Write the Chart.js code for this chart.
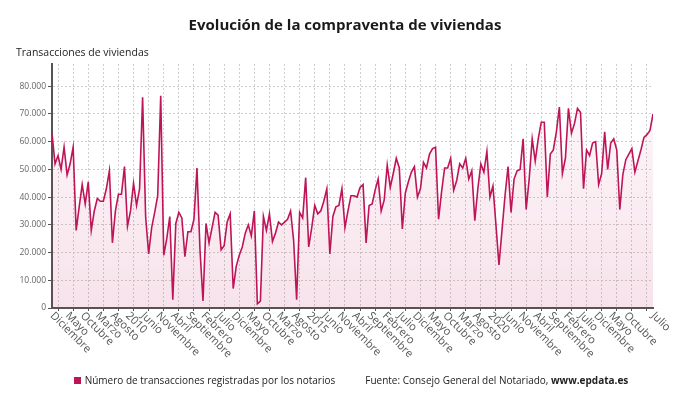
<!DOCTYPE html>
<html lang="es">
<head>
<meta charset="utf-8">
<title>Evolución de la compraventa de viviendas</title>
<script src="https://cdn.jsdelivr.net/npm/chart.js@4.4.1/dist/chart.umd.min.js"></script>
<style>
  html, body { margin: 0; padding: 0; background: #fff; }
  body { width: 690px; height: 405px; position: relative; overflow: hidden; font-family: 'Open Sans', sans-serif; }
  #grafico { position: absolute; left: 0; top: 0; }
  h1 { position: absolute; top: 14px; left: 0; width: 690px; margin: 0; text-align: center; font-size: 15px; font-weight: 700; color: #1a1a1a; }
  .subtitulo { position: absolute; left: 16px; top: 45px; font-size: 10.5px; color: #222; }
  .pie { position: absolute; left: 6px; top: 373px; width: 690px; display: flex; justify-content: center; gap: 30px; font-size: 10px; color: #222; }
  .leyenda { display: flex; align-items: center; }
  .cuadro { width: 7px; height: 7px; background: #be1558; margin-right: 4px; }
</style>
</head>
<body>
<canvas id="grafico" width="690" height="405"></canvas>
<h1>Evolución de la compraventa de viviendas</h1>
<div class="subtitulo">Transacciones de viviendas</div>
<div class="pie">
  <div class="leyenda"><span class="cuadro"></span>Número de transacciones registradas por los notarios</div>
  <div>Fuente: Consejo General del Notariado, <b>www.epdata.es</b></div>
</div>
<script>
// Serie mensual: diciembre 2007 - julio 2024
const mesesNombre = ['Enero', 'Febrero', 'Marzo', 'Abril', 'Mayo', 'Junio', 'Julio',
    'Agosto', 'Septiembre', 'Octubre', 'Noviembre', 'Diciembre'];
const inicioAnio = 2007;
const inicioMes = 11; // diciembre

const valores = [
    63000, 52000, 55000, 50000, 58000, 48000, 52000, 58000, 28000, 36500,
    44500, 37500, 45500, 28000, 35000, 39500, 38500, 38500, 43000, 49500,
    23500, 35000, 41000, 41000, 51000, 29500, 35000, 45000, 37000, 43000,
    76000, 33000, 19500, 29000, 34500, 40500, 76500, 19000, 25000, 33000,
    3000, 30500, 34500, 32500, 18500, 27500, 27500, 32000, 50500, 21000,
    2500, 30500, 23500, 29000, 34500, 33500, 21000, 22500, 31000, 34000,
    7000, 15000, 19000, 22000, 27000, 30000, 26000, 35000, 1500, 2500,
    33000, 28000, 34000, 24000, 27000, 31000, 30000, 31000, 32000, 35000,
    24500, 3000, 34500, 32500, 47000, 22000, 29000, 37000, 34000, 35000,
    38500, 43000, 19500, 33000, 36500, 37000, 43000, 29000, 35000, 40500,
    40500, 40000, 43500, 44500, 23500, 37000, 37500, 42500, 46500, 35000,
    39000, 51500, 43500, 48500, 54000, 50500, 28500, 41500, 45500, 49000,
    51000, 40000, 43000, 52500, 50500, 55500, 57500, 58000, 32000, 42000,
    50500, 50500, 54000, 42500, 46000, 52000, 50500, 54000, 46500, 49500,
    31500, 43000, 52000, 49000, 56500, 40000, 44000, 30000, 15500, 28000,
    40500, 51000, 34500, 46500, 49500, 50000, 61000, 35500, 46500, 61000,
    53000, 61000, 67000, 67000, 40000, 55500, 57000, 63500, 72500, 48500,
    54000, 72000, 63000, 66500, 72000, 70500, 43000, 57000, 55000, 59500,
    60000, 44500, 48500, 63500, 50000, 59500, 61000, 57000, 35500, 48000,
    53500, 55500, 57500, 49000, 53000, 57000, 61500, 62500, 64000, 70000
];

// Categorías: nombre del mes, o el año en enero
const categorias = valores.map((v, i) => {
    const m = (inicioMes + i) % 12;
    const a = inicioAnio + Math.floor((inicioMes + i) / 12);
    return m === 0 ? String(a) : mesesNombre[m];
});

// Etiquetas del eje X cada 5 meses y la última
const indicesEtiquetas = [];
for (let i = 0; i < valores.length - 5; i += 5) indicesEtiquetas.push(i);
indicesEtiquetas.push(valores.length - 1);

// Líneas verticales de la rejilla
const indicesRejilla = [];
for (let i = 2; i < valores.length; i += 5) indicesRejilla.push(i);

// Eje Y
const ticksY = [0, 10000, 20000, 30000, 40000, 50000, 60000, 70000, 80000];
const ejeYMax = 88000;

function formatoMiles(v) {
    return String(Math.round(v)).replace(/\B(?=(\d{3})+(?!\d))/g, '.');
}

const etiquetasX = {
    id: 'etiquetasX',
    afterDraw(chart) {
        const { ctx, chartArea } = chart;
        const x = chart.scales.x;
        ctx.save();
        ctx.font = '11px "Open Sans"';
        ctx.fillStyle = '#555';
        ctx.textAlign = 'left';
        ctx.textBaseline = 'middle';
        indicesEtiquetas.forEach(i => {
            ctx.save();
            ctx.translate(x.getPixelForValue(i), chartArea.bottom + 6);
            ctx.rotate(Math.PI / 4);
            ctx.fillText(categorias[i], 0, 0);
            ctx.restore();
        });
        ctx.restore();
    }
};

new Chart(document.getElementById('grafico'), {
    type: 'line',
    data: {
        datasets: [{
            label: 'Número de transacciones registradas por los notarios',
            data: valores.map((v, i) => ({ x: i, y: v })),
            borderColor: '#be1558',
            borderWidth: 1.6,
            pointRadius: 0,
            tension: 0,
            fill: 'origin',
            backgroundColor: (c) => {
                const area = c.chart.chartArea;
                if (!area) return 'rgba(190, 21, 88, 0.07)';
                const g = c.chart.ctx.createLinearGradient(0, area.top, 0, area.bottom);
                g.addColorStop(0, 'rgba(190, 21, 88, 0.02)');
                g.addColorStop(1, 'rgba(190, 21, 88, 0.12)');
                return g;
            }
        }]
    },
    options: {
        responsive: false,
        devicePixelRatio: 1,
        animation: false,
        layout: { padding: { top: 64, right: 37, left: 0, bottom: 0 } },
        plugins: {
            legend: { display: false },
            title: { display: false },
            tooltip: { enabled: false }
        },
        scales: {
            x: {
                type: 'linear',
                min: 0,
                max: valores.length - 1,
                afterBuildTicks: (scale) => {
                    scale.ticks = indicesRejilla.map(v => ({ value: v }));
                },
                afterFit: (scale) => { scale.height = 97; },
                ticks: { display: false },
                grid: {
                    color: '#cfcfcf',
                    tickColor: '#555',
                    tickLength: 3
                },
                border: { color: '#555', width: 2, dash: [2, 2] }
            },
            y: {
                min: 0,
                max: ejeYMax,
                afterBuildTicks: (scale) => {
                    scale.ticks = ticksY.map(v => ({ value: v }));
                },
                afterFit: (scale) => { scale.width = 52; },
                ticks: {
                    padding: 2,
                    color: '#666',
                    font: { family: 'Open Sans', size: 8.5 },
                    callback: (v) => formatoMiles(v)
                },
                grid: {
                    color: '#cfcfcf',
                    tickColor: '#555',
                    tickLength: 4
                },
                border: { color: '#555', width: 2, dash: [2, 2] }
            }
        }
    },
    plugins: [etiquetasX]
});
</script>
</body>
</html>
